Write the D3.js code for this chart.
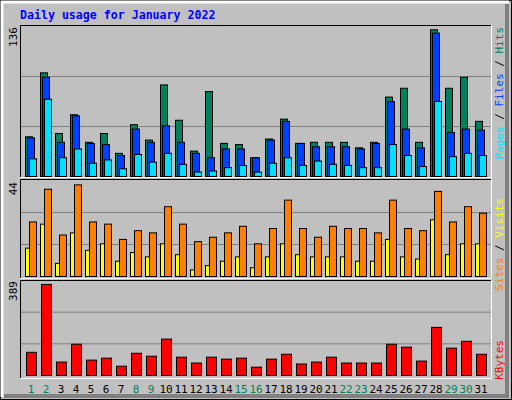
<!DOCTYPE html>
<html><head><meta charset="utf-8">
<script src="https://cdn.jsdelivr.net/npm/d3@7"></script>
<style>body{margin:0;background:#fff}</style>
</head><body>
<svg id="chart" width="512" height="400"></svg>
<script>
const days = d3.range(1, 32);
const weekends = [1, 2, 8, 9, 15, 16, 22, 23, 29, 30];
const hits = [36,94,39,56,31,39,21,47,33,83,51,23,77,30,29,17,34,52,30,31,31,31,26,31,72,80,31,133,80,90,50];
const files = [35,90,31,55,30,29,19,43,31,46,31,21,17,25,25,17,33,50,30,27,27,27,25,30,68,43,26,130,40,43,42];
const pages = [16,70,17,25,12,15,7,20,13,21,11,4,5,8,10,4,12,17,10,14,11,10,8,8,29,19,9,68,18,21,19];
const visits = [25,40,19,42,25,24,17,21,20,32,24,16,18,20,23,15,22,35,22,18,23,22,22,20,35,22,21,39,25,32,29];
const sites = [13,24,6,20,12,15,7,11,9,15,10,3,5,7,9,4,9,15,10,9,9,9,7,7,17,9,8,26,10,15,15];
const kbytes = [95,373,55,128,63,71,38,91,79,149,75,51,75,67,71,34,67,87,47,55,75,51,51,51,128,116,59,197,112,140,87];
const maxTop = 136, maxMid = 44, maxBot = 389;

const svg = d3.select("#chart");
const mono = "DejaVu Sans Mono, monospace";

// 3D frame
svg.append("rect").attr("x", 0.5).attr("y", 0.5).attr("width", 511).attr("height", 399).attr("fill", "#c0c0c0").attr("stroke", "#000");
svg.append("path").attr("d", "M2,397V2H509").attr("fill", "none").attr("stroke", "#fff").attr("stroke-width", 3);
svg.append("path").attr("d", "M4,396H507V4").attr("fill", "none").attr("stroke", "#808080").attr("stroke-width", 4);

svg.append("text").attr("x", 20).attr("y", 19).text("Daily usage for January 2022")
	.attr("font-family", mono).attr("font-weight", "bold").attr("font-size", "11.6px").attr("fill", "#0000ff");

const x = d3.scaleLinear().domain([1, 32]).range([25, 25 + 15 * 31]);
const left = 20, right = 491;

function panel(top, bottom, max) {
	const y = d3.scaleLinear().domain([0, max]).range([bottom, top]);
	const g = svg.append("g");
	[1, 2].forEach((k) => {
		g.append("line").attr("x1", left).attr("x2", right)
			.attr("y1", y(max * k / 3) + 0.5).attr("y2", y(max * k / 3) + 0.5)
			.attr("stroke", "#808080");
	});
	return { y, g };
}

function frame(top, bottom) {
	svg.append("path").attr("d", `M${left + 0.5},${bottom}V${top + 0.5}H${right}`).attr("fill", "none").attr("stroke", "#000");
	svg.append("path").attr("d", `M${left},${bottom + 0.5}H${right + 0.5}V${top}`).attr("fill", "none").attr("stroke", "#fff");
}

function bars(p, data, dx, w, color) {
	p.g.selectAll(null).data(data).enter().append("rect")
		.attr("x", (d, i) => x(days[i]) + dx + 0.5)
		.attr("y", (d) => p.y(d) + 0.5)
		.attr("width", w)
		.attr("height", (d) => p.y(0) - p.y(d))
		.attr("fill", color).attr("stroke", "#000");
}

function yLabel(text, top) {
	svg.append("text").attr("transform", `translate(17,${top}) rotate(-90)`)
		.attr("text-anchor", "end").text(text)
		.attr("font-family", mono).attr("font-size", "11px").attr("fill", "#000");
}

function sideLabel(parts, top) {
	const t = svg.append("text").attr("transform", `translate(503,${top}) rotate(-90)`)
		.attr("text-anchor", "end").attr("font-family", mono).attr("font-size", "11px");
	parts.forEach(([s, c]) => t.append("tspan").text(s).attr("fill", c));
}

const pTop = panel(26, 176, maxTop);
bars(pTop, hits, 0, 7, "#00805c");
bars(pTop, files, 2, 7, "#0040ff");
bars(pTop, pages, 4, 7, "#00e0ff");
frame(25, 177);
yLabel("136", 27);
sideLabel([["Pages", "#00e0ff"], [" / ", "#000"], ["Files", "#0040ff"], [" / ", "#000"], ["Hits", "#00805c"]], 27);

const pMid = panel(180, 276, maxMid);
bars(pMid, sites, 0, 4, "#ffff00");
bars(pMid, visits, 4, 7, "#ff8000");
frame(179, 278);
yLabel("44", 182);
sideLabel([["Sites", "#ff8000"], [" / ", "#000"], ["Visits", "#ffff00"]], 198);

const pBot = panel(280, 375, maxBot);
bars(pBot, kbytes, 1, 10, "#ff0000");
frame(280, 378);
yLabel("389", 281);
sideLabel([["KBytes", "#ff0000"]], 340);

svg.selectAll(null).data(days).enter().append("text")
	.attr("x", (d) => x(d) + 6).attr("y", 393).attr("text-anchor", "middle")
	.text((d) => d).attr("font-family", mono).attr("font-size", "11px")
	.attr("fill", (d) => weekends.includes(d) ? "#00805c" : "#000");
</script>
</body></html>
